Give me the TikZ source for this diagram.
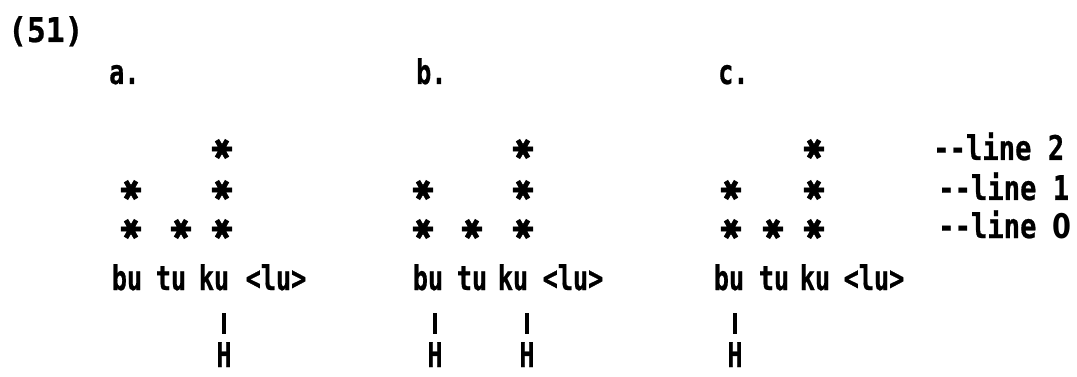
\documentclass[tikz,border=0pt]{standalone}
\usepackage{graphicx}
\usepackage{fontspec}
\setmainfont{DejaVu Sans Mono}[BoldFeatures={FakeBold=0.7}]
\newfontfamily\starfont{DejaVu Sans}[FakeBold=2.5]
\newfontfamily\zerofont{DejaVu Sans}
\newcommand{\T}[1]{\scalebox{0.74}[1]{#1}}
\newcommand{\TW}[1]{\scalebox{0.80}[1]{#1}}
\newcommand{\TN}[1]{\scalebox{0.92}[1]{#1}}
\tikzset{
  txt/.style={inner sep=0pt, anchor=base, font=\fontsize{34}{34}\selectfont\bfseries},
  lbl/.style={txt, anchor=base west},
  star/.style={inner sep=0pt, font=\starfont\fontsize{27}{27}\selectfont, rotate=90},
  bar/.style={line width=4pt, shorten >=8pt}
}
\begin{document}
\begin{tikzpicture}[x=1pt,y=-1pt]
\useasboundingbox[fill=white] (0,0) rectangle (1077,377);
% number and panel labels
\node[lbl] (num) at (8,42) {\TN{(51)}};
\node[lbl] (la) at (109,84) {\T{a.}};
\node[lbl] (lb) at (416,84) {\T{b.}};
\node[lbl] (lc) at (718,84) {\T{c.}};
% line labels
\node[lbl] (l2) at (933,160) {\TW{-{}-line 2}};
\node[lbl] (l1) at (938,200) {\TW{-{}-line 1}};
\node[lbl] (l0) at (938,238) {\TW{-{}-line {\zerofont 0}}};
% panel a
\node[txt] (bua) at (127,290) {\T{bu}};
\node[txt] (tua) at (171,290) {\T{tu}};
\node[txt] (kua) at (214,290) {\T{ku}};
\node[txt] (lua) at (276,290) {\T{<lu>}};
\node[star] (a00) at (131,229) {✱};
\node[star] (a01) at (181,229) {✱};
\node[star] (a02) at (222,229) {✱};
\node[star] (a10) at (131,190) {✱};
\node[star] (a12) at (222,190) {✱};
\node[star] (a22) at (222,149) {✱};
\node[txt] (Ha) at (224,367) {\T{H}};
\coordinate (ta) at (224,313);
\draw[bar] (ta) -- (Ha.north);
% panel b
\node[txt] (bub) at (428,290) {\T{bu}};
\node[txt] (tub) at (472,290) {\T{tu}};
\node[txt] (kub) at (513,290) {\T{ku}};
\node[txt] (lub) at (573,290) {\T{<lu>}};
\node[star] (b00) at (423,229) {✱};
\node[star] (b01) at (472,229) {✱};
\node[star] (b02) at (523,229) {✱};
\node[star] (b10) at (423,190) {✱};
\node[star] (b12) at (523,190) {✱};
\node[star] (b22) at (523,149) {✱};
\node[txt] (Hb1) at (435,367) {\T{H}};
\node[txt] (Hb2) at (527,367) {\T{H}};
\coordinate (tb1) at (435,313);
\coordinate (tb2) at (527,313);
\draw[bar] (tb1) -- (Hb1.north);
\draw[bar] (tb2) -- (Hb2.north);
% panel c
\node[txt] (buc) at (729,290) {\T{bu}};
\node[txt] (tuc) at (774,290) {\T{tu}};
\node[txt] (kuc) at (815,290) {\T{ku}};
\node[txt] (luc) at (874,290) {\T{<lu>}};
\node[star] (c00) at (731,229) {✱};
\node[star] (c01) at (773,229) {✱};
\node[star] (c02) at (814,229) {✱};
\node[star] (c10) at (731,190) {✱};
\node[star] (c12) at (814,190) {✱};
\node[star] (c22) at (814,149) {✱};
\node[txt] (Hc) at (735,367) {\T{H}};
\coordinate (tc) at (735,313);
\draw[bar] (tc) -- (Hc.north);
\end{tikzpicture}
\end{document}
